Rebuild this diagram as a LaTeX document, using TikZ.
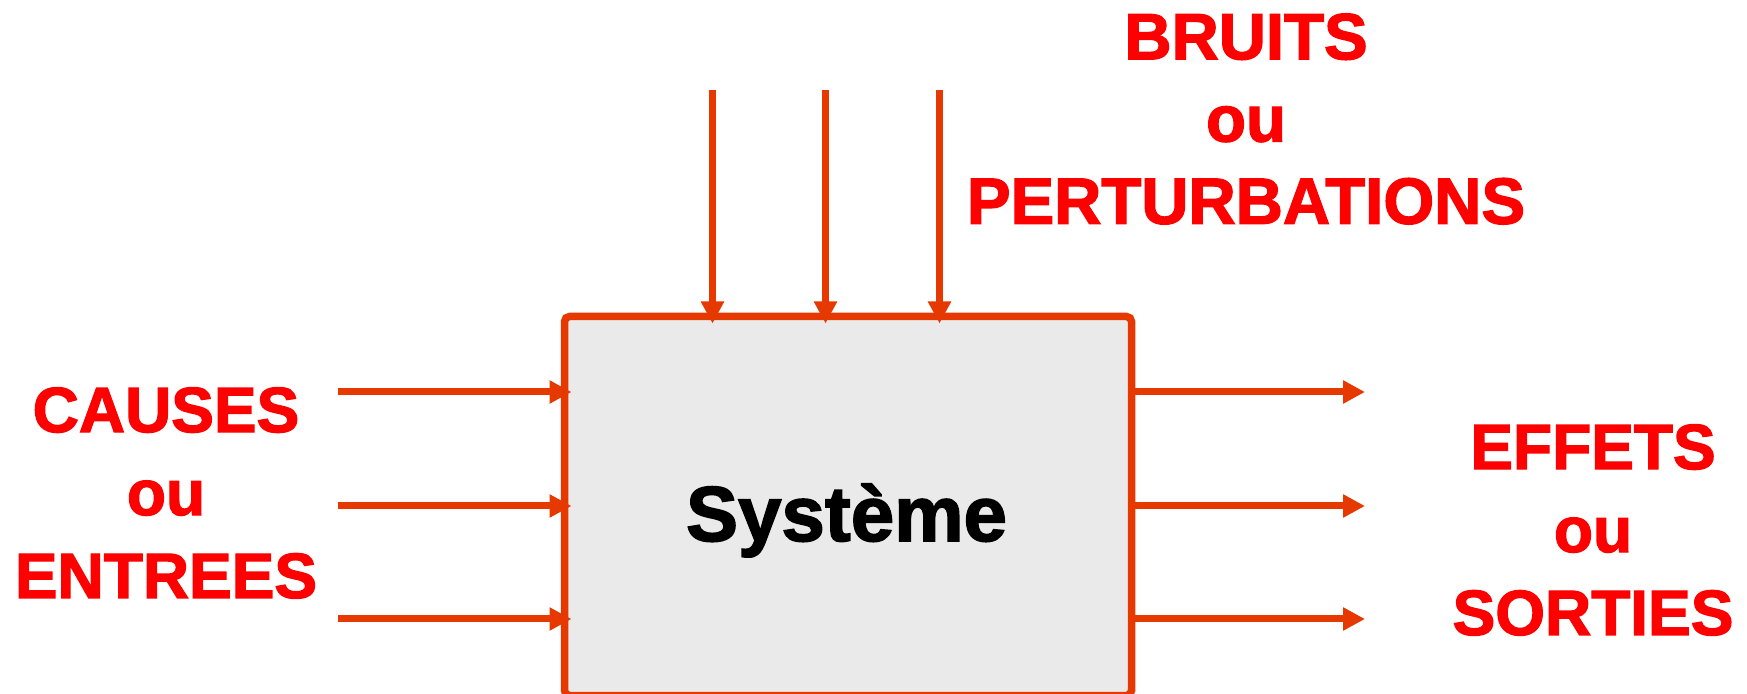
\documentclass[tikz,border=0pt]{standalone}
\usepackage{fontspec}
\setmainfont{Liberation Sans}[BoldFeatures={FakeBold=2}]
\usetikzlibrary{arrows.meta, positioning, calc}
\definecolor{sysred}{RGB}{255,0,0}
\definecolor{sysorange}{RGB}{230,57,0}
\definecolor{sysgray}{RGB}{234,234,234}

\begin{document}
\begin{tikzpicture}[
        system/.style={rectangle, rounded corners=0.5mm, draw=sysorange, line width=0.75mm, fill=sysgray, minimum width=5.67cm, minimum height=3.79cm, outer sep=0pt, inner sep=0pt},
        sidetext/.style={text=sysred, font=\bfseries\fontsize{18.2}{23.6}\selectfont, align=center, inner sep=0pt},
        toptext/.style={sidetext, font=\bfseries\fontsize{18.6}{23.4}\selectfont},
        arrow/.style={-{Triangle[length=2.2mm, width=2.2mm]}, line width=0.7mm, draw=sysorange},
        inarrow/.style={arrow, shorten >=-0.7mm}
    ]
        \useasboundingbox (0,0) rectangle (17.47,6.93);

        \node[system] (systeme) at (8.48,1.87) {};
        \node[anchor=base, inner sep=0pt, font=\bfseries\fontsize{22.2}{26}\selectfont] (nom) at (8.465,1.52) {Système};

        \node[sidetext] (causes) at (1.66,2.00) {CAUSES\\ou\\ENTREES};
        \node[sidetext] (effets) at (15.93,1.63) {EFFETS\\ou\\SORTIES};
        \node[toptext] (bruits) at (12.46,5.74) {BRUITS\\ou\\PERTURBATIONS};

        % entrees
        \coordinate (in1) at (3.38,3.01);
        \coordinate (in2) at (3.38,1.87);
        \coordinate (in3) at (3.38,0.74);
        \draw[inarrow] (in1) -- (in1 -| systeme.west);
        \draw[inarrow] (in2) -- (in2 -| systeme.west);
        \draw[inarrow] (in3) -- (in3 -| systeme.west);

        % sorties
        \coordinate (out1) at (13.65,3.01);
        \coordinate (out2) at (13.65,1.87);
        \coordinate (out3) at (13.65,0.74);
        \draw[arrow] (out1 -| systeme.east) -- (out1);
        \draw[arrow] (out2 -| systeme.east) -- (out2);
        \draw[arrow] (out3 -| systeme.east) -- (out3);

        % perturbations
        \coordinate (noise1) at (7.125,6.03);
        \coordinate (noise2) at (8.255,6.03);
        \coordinate (noise3) at (9.395,6.03);
        \draw[inarrow] (noise1) -- (noise1 |- systeme.north);
        \draw[inarrow] (noise2) -- (noise2 |- systeme.north);
        \draw[inarrow] (noise3) -- (noise3 |- systeme.north);
    \end{tikzpicture}
\end{document}
